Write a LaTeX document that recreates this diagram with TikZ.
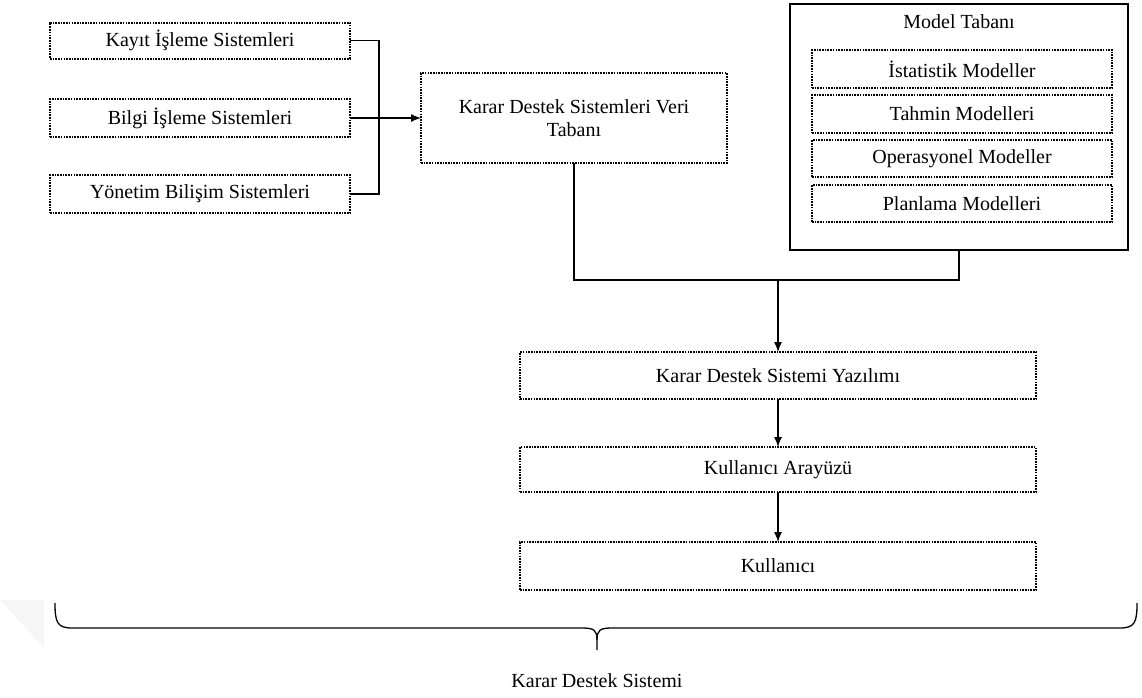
\documentclass[tikz,border=0pt]{standalone}
\usepackage{fontspec}
\setmainfont{Liberation Serif}
\usetikzlibrary{arrows.meta}
\begin{document}
\begin{tikzpicture}[x=1pt,y=-1pt,
  every node/.style={font=\fontsize{20}{23}\selectfont, inner sep=0pt, outer sep=0pt},
  dotbox/.style={draw, line width=2pt, dash pattern=on 1.6pt off 1.1pt, minimum width=#1},
  solidbox/.style={draw, line width=1.3pt},
  conn/.style={line width=1.3pt},
  arr/.style={conn, -{Latex[length=10pt,width=8pt]}}]
\useasboundingbox (0,0) rectangle (1142,697);
% faint shadow wedge
\fill[gray!7] (0,600) -- (44,600) -- (44,648) -- cycle;
% left boxes
\node[dotbox=300, minimum height=36] (kayit) at (200,40.5) {Kayıt İşleme Sistemleri};
\node[dotbox=300, minimum height=38] (bilgi) at (200,118) {Bilgi İşleme Sistemleri};
\node[dotbox=300, minimum height=38] (yonetim) at (200,194) {Yönetim Bilişim Sistemleri};
% database
\node[dotbox=306, minimum height=90, align=center] (db) at (574,118) {Karar Destek Sistemleri Veri\\Tabanı};
% model base
\node[solidbox, minimum width=338, minimum height=246] (model) at (959,127) {};
\node (mtitle) at (959,22) {Model Tabanı};
\node[dotbox=300, minimum height=38] (ist) at (962,69) {İstatistik Modeller};
\node[dotbox=300, minimum height=38] (tah) at (962,114) {Tahmin Modelleri};
\node[dotbox=300, minimum height=37] (ope) at (962,158.5) {Operasyonel Modeller};
\node[dotbox=300, minimum height=37] (pla) at (962,203.5) {Planlama Modelleri};
% lower chain
\node[dotbox=516, minimum height=47] (yaz) at (778,375.5) {Karar Destek Sistemi Yazılımı};
\node[dotbox=516, minimum height=45] (ara) at (778,469.5) {Kullanıcı Arayüzü};
\node[dotbox=516, minimum height=48] (kul) at (778,566) {Kullanıcı};
% connectors
\coordinate (jx) at (379,118);
\coordinate (j2) at (778,280);
\draw[conn] (kayit.east) -| (jx) |- (yonetim.east);
\draw[arr] (bilgi.east) -- (db.west);
\draw[conn] (db.south) |- (j2) -| (model.south);
\draw[arr] (j2) -- (yaz.north);
\draw[arr] (yaz.south) -- (ara.north);
\draw[arr] (ara.south) -- (kul.north);
% brace
\coordinate (bl) at (55,603);
\coordinate (br) at (1137,603);
\coordinate (bt) at (597,650);
\draw[line width=1.3pt] (bl) .. controls (55,622) and (57,628) .. (72,628) -- (582,628)
  .. controls (594,628) and (597,630) .. (597,640) -- (bt);
\draw[line width=1.3pt] (br) .. controls (1137,622) and (1135,628) .. (1120,628) -- (612,628)
  .. controls (600,628) and (597,630) .. (597,640);
\node (kds) at (597,681) {Karar Destek Sistemi};
\end{tikzpicture}
\end{document}
